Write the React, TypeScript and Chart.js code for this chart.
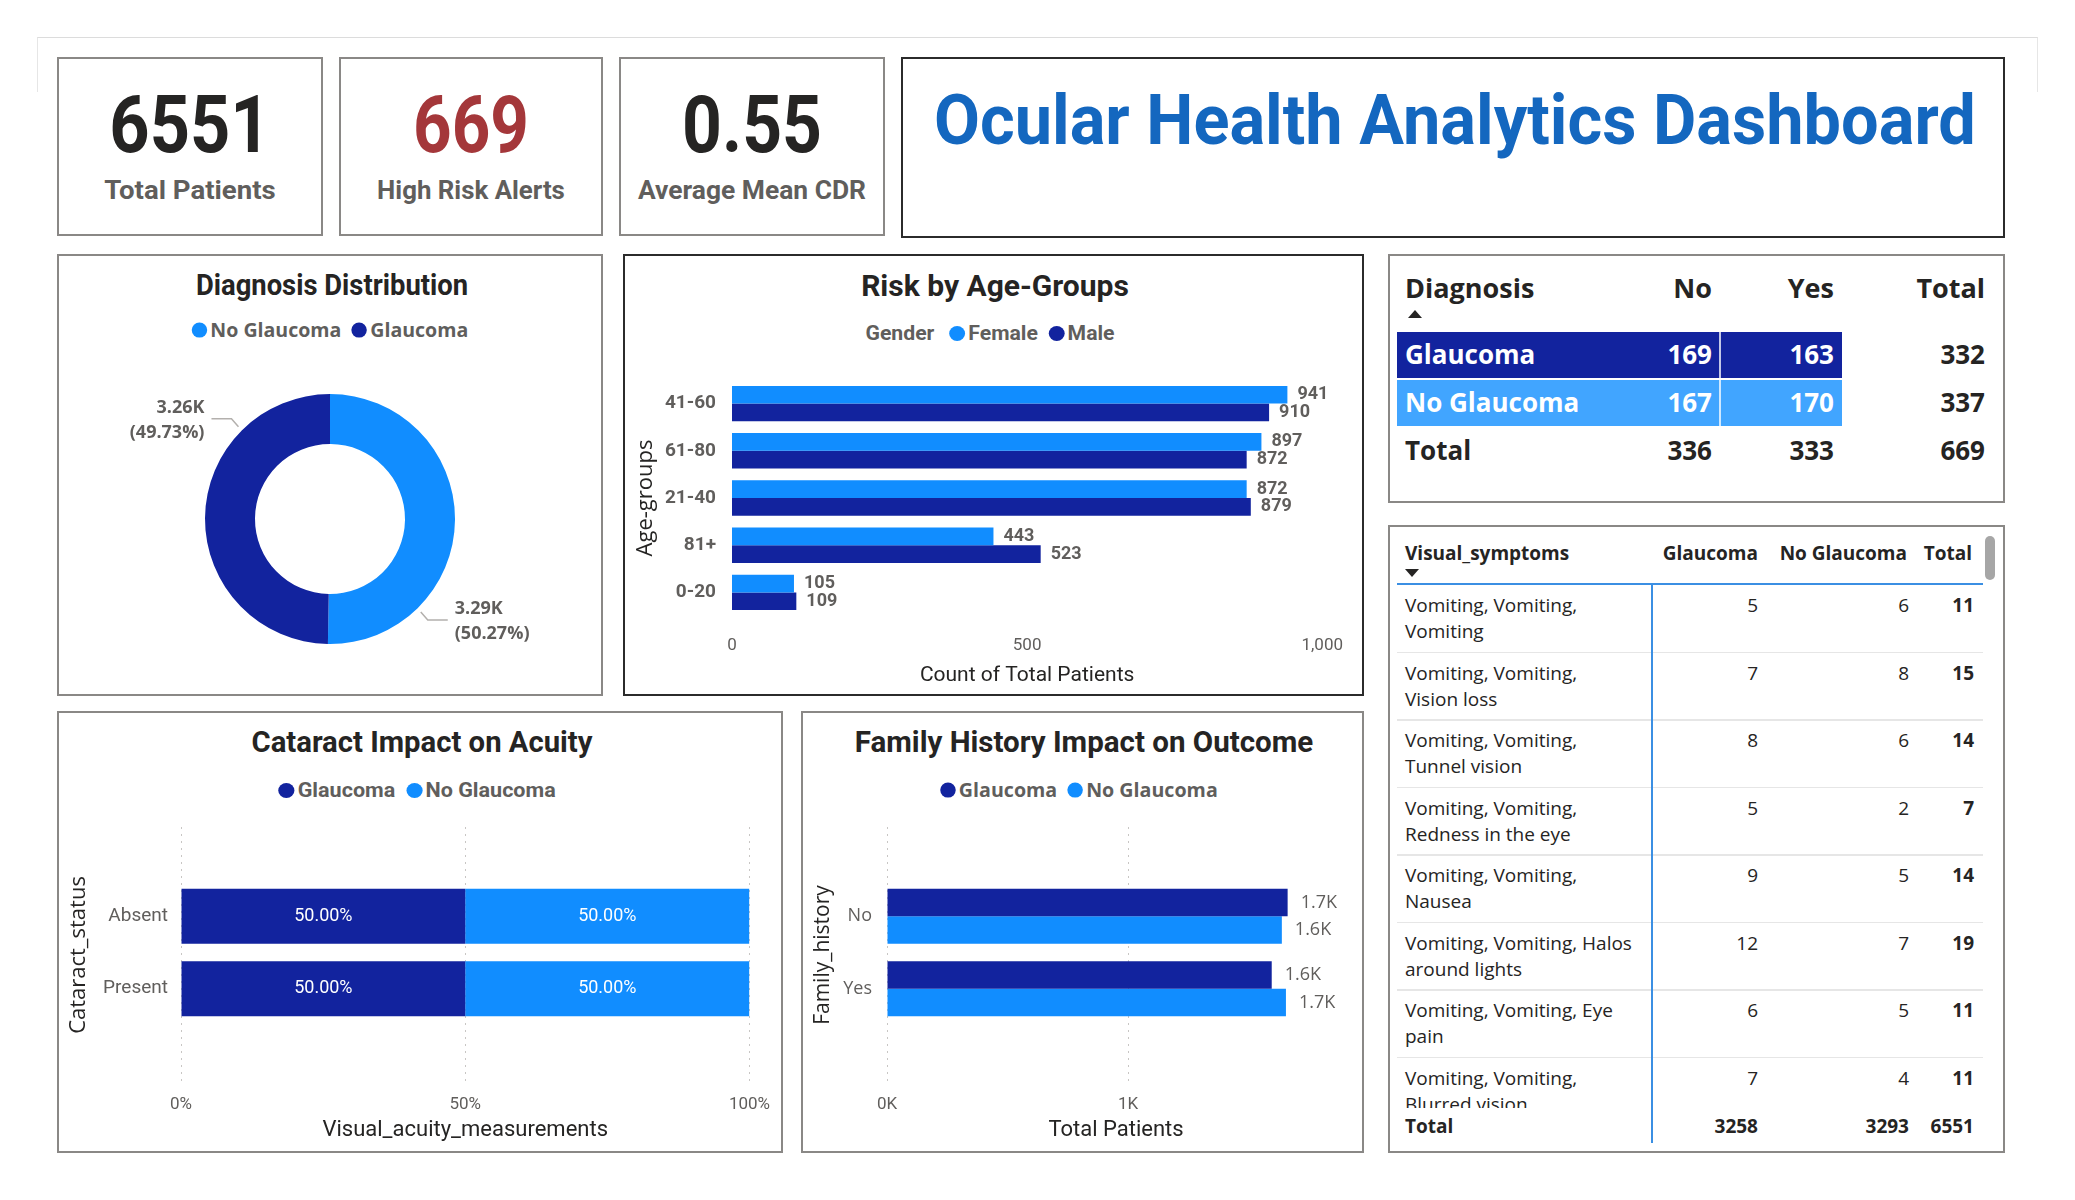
import React, { useEffect, useLayoutEffect, useRef, useState } from 'react';
import { Chart, registerables } from 'chart.js';
Chart.register(...registerables);

const NAVY = '#12239E';
const SKY = '#118DFF';
const SKY_ROW = '#41A5FF';
const GRAY_TXT = '#605E5C';
const DARK_TXT = '#252423';
const DIN = "Roboto, 'DejaVu Sans Condensed', sans-serif";
const SEGOE = "'Open Sans', 'Noto Sans', sans-serif";

// ---------- data ----------
const kpiValues = ['6551', '669', '0.55'];
const kpiLabels = ['Total Patients', 'High Risk Alerts', 'Average Mean CDR'];
const dashboardTitle = 'Ocular Health Analytics Dashboard';

const diagnosisLabels = ['No Glaucoma', 'Glaucoma'];
const diagnosisCounts = [3293, 3258];

const ageGroups = ['41-60', '61-80', '21-40', '81+', '0-20'];
const femaleCounts = [941, 897, 872, 443, 105];
const maleCounts = [910, 872, 879, 523, 109];

const cataractStatus = ['Absent', 'Present'];
const cataractGlaucomaPct = [50, 50];
const cataractNoGlaucomaPct = [50, 50];

const familyHistory = ['No', 'Yes'];
const familyGlaucoma = [1662, 1596];
const familyNoGlaucoma = [1638, 1655];
const familyTicks = [0, 1000];

const matrixRows = ['Glaucoma', 'No Glaucoma'];
const matrixNo = [169, 167];
const matrixYes = [163, 170];
const matrixTotal = [332, 337];
const matrixColTotals = [336, 333, 669];

const symptomLines = [
  ['Vomiting, Vomiting,', 'Vomiting'],
  ['Vomiting, Vomiting,', 'Vision loss'],
  ['Vomiting, Vomiting,', 'Tunnel vision'],
  ['Vomiting, Vomiting,', 'Redness in the eye'],
  ['Vomiting, Vomiting,', 'Nausea'],
  ['Vomiting, Vomiting, Halos', 'around lights'],
  ['Vomiting, Vomiting, Eye', 'pain'],
  ['Vomiting, Vomiting,', 'Blurred vision'],
];
const symptomGlaucoma = [5, 7, 8, 5, 9, 12, 6, 7];
const symptomNoGlaucoma = [6, 8, 6, 2, 5, 7, 5, 4];
const symptomTotals = [11, 15, 14, 7, 14, 19, 11, 11];
const symptomGrandTotals = [3258, 3293, 6551];

// ---------- helpers ----------
type TxtProps = {
  x: number; y: number; children: any; align?: 'left' | 'right' | 'center';
  size: number; weight?: any; color?: string; family?: string; style?: any; width?: number;
};
function Txt({ x, y, children, align = 'left', size, weight = 400, color = DARK_TXT, family = SEGOE, style, width }: TxtProps) {
  const ref = useRef<HTMLDivElement>(null);
  const [sx, setSx] = useState(1);
  useLayoutEffect(() => {
    if (!width || !ref.current) return;
    const w = ref.current.offsetWidth;
    if (w > 0) setSx(width / w);
  }, [width]);
  const tx = align === 'left' ? '0' : align === 'right' ? '-100%' : '-50%';
  const origin = align === 'left' ? 'left center' : align === 'right' ? 'right center' : 'center center';
  return (
    <div ref={ref} style={{
      position: 'absolute', left: x, top: y, transform: `translate(${tx},-50%) scaleX(${sx})`, transformOrigin: origin,
      fontSize: size, fontWeight: weight, color, fontFamily: family, lineHeight: 1.2,
      whiteSpace: 'nowrap', ...style,
    }}>{children}</div>
  );
}

function Box({ l, t, w, h, color = '#8a8886', bw = 2 }: any) {
  return <div style={{ position: 'absolute', left: l, top: t, width: w, height: h, boxSizing: 'border-box', border: `${bw}px solid ${color}`, background: 'transparent' }} />;
}

function Legend({ cx, cy, items, prefix, family, size = 20, width }: any) {
  return (
    <Txt x={cx} y={cy} size={size} weight={700} color={GRAY_TXT} family={family} align="center" width={width}
      style={{ display: 'flex', alignItems: 'center' }}>
      {prefix ? <span style={{ marginRight: 14 }}>{prefix}</span> : null}
      {items.map((it: any, i: number) => (
        <span key={i} style={{ display: 'flex', alignItems: 'center', marginRight: i < items.length - 1 ? 10 : 0 }}>
          <span style={{ width: 15, height: 15, borderRadius: '50%', background: it.color, marginRight: 3, display: 'inline-block' }} />
          <span>{it.label}</span>
        </span>
      ))}
    </Txt>
  );
}

function ChartBox({ left, top, width, height, make }: any) {
  const ref = useRef<HTMLCanvasElement>(null);
  useEffect(() => {
    const chart = new Chart(ref.current as HTMLCanvasElement, make());
    return () => chart.destroy();
  }, []);
  return <canvas ref={ref} width={width} height={height} style={{ position: 'absolute', left, top, width, height }} />;
}

function makeValueLabels(o: { formatter: (v: number) => string; font: string; color: string; offset?: number; inside?: boolean }) {
  return {
    id: 'valueLabels',
    afterDatasetsDraw(chart: any) {
      const ctx = chart.ctx;
      ctx.save();
      chart.data.datasets.forEach((ds: any, di: number) => {
        const meta = chart.getDatasetMeta(di);
        meta.data.forEach((bar: any, i: number) => {
          const raw = ds.data[i];
          const v = typeof raw === 'object' ? raw.x : raw;
          const text = o.formatter(v);
          ctx.font = o.font;
          ctx.fillStyle = o.color;
          ctx.textBaseline = 'middle';
          if (o.inside) {
            ctx.textAlign = 'center';
            ctx.fillText(text, (bar.x + bar.base) / 2, bar.y);
          } else {
            ctx.textAlign = 'left';
            ctx.fillText(text, bar.x + (o.offset || 10), bar.y);
          }
        });
      });
      ctx.restore();
    },
  };
}

const donutLabels = {
  id: 'donutLabels',
  afterDatasetsDraw(chart: any) {
    const ctx = chart.ctx;
    const meta = chart.getDatasetMeta(0);
    const vals = chart.data.datasets[0].data as number[];
    const total = vals.reduce((a, b) => a + b, 0);
    ctx.save();
    meta.data.forEach((arc: any, i: number) => {
      const { x, y, startAngle, endAngle, outerRadius } = arc.getProps(['x', 'y', 'startAngle', 'endAngle', 'outerRadius'], true);
      const a = startAngle + (endAngle - startAngle) * 0.75;
      const c = Math.cos(a), s = Math.sin(a);
      const p0x = x + c * (outerRadius + 5), p0y = y + s * (outerRadius + 5);
      const dx = Math.sign(c), dy = Math.sign(s);
      const p1x = p0x + dx * 7, p1y = p0y + dy * 8;
      const p2x = p1x + dx * 20;
      ctx.strokeStyle = '#b3b0ad';
      ctx.lineWidth = 1.5;
      ctx.beginPath();
      ctx.moveTo(p0x, p0y); ctx.lineTo(p1x, p1y); ctx.lineTo(p2x, p1y);
      ctx.stroke();
      ctx.fillStyle = GRAY_TXT;
      ctx.font = `bold 18px ${SEGOE}`;
      ctx.textAlign = dx > 0 ? 'left' : 'right';
      ctx.textBaseline = 'middle';
      const tx = p2x + dx * 7;
      ctx.fillText((vals[i] / 1000).toFixed(2) + 'K', tx, p1y - 11);
      ctx.fillText('(' + ((vals[i] / total) * 100).toFixed(2) + '%)', tx, p1y + 14);
    });
    ctx.restore();
  },
};

// ---------- chart configs ----------
const noLegend = { legend: { display: false }, tooltip: { enabled: false } };

function donutConfig(): any {
  return {
    type: 'doughnut',
    data: { labels: diagnosisLabels, datasets: [{ data: diagnosisCounts, backgroundColor: [SKY, NAVY], borderWidth: 0, hoverOffset: 0 }] },
    options: {
      responsive: false, animation: false, cutout: '60%',
      layout: { padding: { top: 139, bottom: 51, left: 147, right: 147 } },
      plugins: noLegend,
    },
    plugins: [donutLabels],
  };
}

function riskConfig(): any {
  return {
    type: 'bar',
    data: {
      labels: ageGroups,
      datasets: [
        { label: 'Female', data: femaleCounts, backgroundColor: SKY, categoryPercentage: 0.75, barPercentage: 1 },
        { label: 'Male', data: maleCounts, backgroundColor: NAVY, categoryPercentage: 0.75, barPercentage: 1 },
      ],
    },
    options: {
      indexAxis: 'y', responsive: false, animation: false,
      layout: { padding: { top: 125, right: 39, bottom: 7, left: 9 } },
      plugins: noLegend,
      scales: {
        x: {
          min: 0, max: 1000,
          ticks: { stepSize: 500, color: GRAY_TXT, font: { family: DIN, size: 17 }, padding: 20 },
          grid: { display: false, drawTicks: false }, border: { display: false },
          title: { display: true, text: 'Count of Total Patients', color: DARK_TXT, font: { family: DIN, size: 21 }, padding: 0 },
          afterFit: (s: any) => { s.height = 72; },
        },
        y: {
          ticks: { color: GRAY_TXT, font: { family: DIN, size: 19, weight: 'bold' }, padding: 16 },
          grid: { display: false, drawTicks: false }, border: { display: false },
          title: { display: true, text: 'Age-groups', color: DARK_TXT, font: { family: SEGOE, size: 22 }, padding: 0 },
          afterFit: (s: any) => { s.width = 99; },
        },
      },
    },
    plugins: [makeValueLabels({ formatter: (v) => String(v), font: `bold 18px ${DIN}`, color: GRAY_TXT, offset: 10 })],
  };
}

function cataractConfig(): any {
  return {
    type: 'bar',
    data: {
      datasets: [
        { label: 'Glaucoma', data: cataractGlaucomaPct.map((v, i) => ({ x: v, y: i })), backgroundColor: NAVY, categoryPercentage: 0.76, barPercentage: 1 },
        { label: 'No Glaucoma', data: cataractNoGlaucomaPct.map((v, i) => ({ x: v, y: i })), backgroundColor: SKY, categoryPercentage: 0.76, barPercentage: 1 },
      ],
    },
    options: {
      indexAxis: 'y', responsive: false, animation: false,
      layout: { padding: { top: 115, right: 30, bottom: 8, left: 8 } },
      plugins: noLegend,
      scales: {
        x: {
          type: 'linear', stacked: true, min: 0, max: 100,
          ticks: { stepSize: 50, color: GRAY_TXT, font: { family: DIN, size: 17 }, padding: 12, callback: (v: any) => v + '%' },
          grid: { color: '#c8c6c4', lineWidth: 1, drawTicks: false }, border: { display: false, dash: [2, 5] },
          title: { display: true, text: 'Visual_acuity_measurements', color: DARK_TXT, font: { family: DIN, size: 22 }, padding: 0 },
          afterFit: (s: any) => { s.height = 61; },
        },
        y: {
          type: 'linear', stacked: true, reverse: true, offset: false, min: -1.23, max: 2.3,
          afterBuildTicks: (s: any) => { s.ticks = cataractStatus.map((_, i) => ({ value: i })); },
          ticks: { color: GRAY_TXT, font: { family: DIN, size: 19 }, padding: 13, callback: (v: any) => cataractStatus[v] ?? '' },
          grid: { display: false, drawTicks: false }, border: { display: false },
          title: { display: true, text: 'Cataract_status', color: DARK_TXT, font: { family: SEGOE, size: 22 }, padding: 0 },
          afterFit: (s: any) => { s.width = 115; },
        },
      },
    },
    plugins: [makeValueLabels({ formatter: (v) => v.toFixed(2) + '%', font: `18px ${DIN}`, color: '#ffffff', inside: true })],
  };
}

function familyConfig(): any {
  return {
    type: 'bar',
    data: {
      datasets: [
        { label: 'Glaucoma', data: familyGlaucoma.map((v, i) => ({ x: v, y: i })), backgroundColor: NAVY, categoryPercentage: 0.76, barPercentage: 1 },
        { label: 'No Glaucoma', data: familyNoGlaucoma.map((v, i) => ({ x: v, y: i })), backgroundColor: SKY, categoryPercentage: 0.76, barPercentage: 1 },
      ],
    },
    options: {
      indexAxis: 'y', responsive: false, animation: false,
      layout: { padding: { top: 115, right: 18, bottom: 8, left: 8 } },
      plugins: noLegend,
      scales: {
        x: {
          type: 'linear', min: 0, max: 1900,
          afterBuildTicks: (s: any) => { s.ticks = familyTicks.map((v) => ({ value: v })); },
          ticks: { color: GRAY_TXT, font: { family: DIN, size: 17 }, padding: 12, callback: (v: any) => v / 1000 + 'K' },
          grid: { color: '#c8c6c4', lineWidth: 1, drawTicks: false }, border: { display: false, dash: [2, 5] },
          title: { display: true, text: 'Total Patients', color: DARK_TXT, font: { family: DIN, size: 22 }, padding: 0 },
          afterFit: (s: any) => { s.height = 61; },
        },
        y: {
          type: 'linear', reverse: true, offset: false, min: -1.23, max: 2.3,
          afterBuildTicks: (s: any) => { s.ticks = familyHistory.map((_, i) => ({ value: i })); },
          ticks: { color: GRAY_TXT, font: { family: SEGOE, size: 18 }, padding: 15, callback: (v: any) => familyHistory[v] ?? '' },
          grid: { display: false, drawTicks: false }, border: { display: false },
          title: { display: true, text: 'Family_history', color: DARK_TXT, font: { family: SEGOE, size: 21 }, padding: 0 },
          afterFit: (s: any) => { s.width = 77; },
        },
      },
    },
    plugins: [makeValueLabels({ formatter: (v) => (v / 1000).toFixed(1) + 'K', font: `18px ${SEGOE}`, color: GRAY_TXT, offset: 13 })],
  };
}

// ---------- layout ----------
const kpiBoxes = [
  { l: 57, w: 266 },
  { l: 339, w: 264 },
  { l: 619, w: 266 },
];
const kpiColors = [DARK_TXT, '#A4373A', DARK_TXT];
const kpiValueWidths = [161, 116, 140];
const kpiLabelWidths = [171, 188, 228];

function Triangle({ x, y, up }: any) {
  return <div style={{
    position: 'absolute', left: x, top: y, width: 0, height: 0,
    borderLeft: '7px solid transparent', borderRight: '7px solid transparent',
    ...(up ? { borderBottom: `8px solid ${DARK_TXT}` } : { borderTop: `8px solid ${DARK_TXT}` }),
  }} />;
}

function MatrixTable() {
  const rowTop = 332, rowH = 48;
  return (
    <>
      <Box l={1388} t={254} w={617} h={249} />
      <Txt x={1405} y={288} size={27} weight={700}>Diagnosis</Txt>
      <Txt x={1712} y={288} size={27} weight={700} align="right">No</Txt>
      <Txt x={1834} y={288} size={27} weight={700} align="right">Yes</Txt>
      <Txt x={1985} y={288} size={27} weight={700} align="right">Total</Txt>
      <Triangle x={1408} y={310} up />
      {matrixRows.map((r, i) => (
        <React.Fragment key={r}>
          <div style={{ position: 'absolute', left: 1397, top: rowTop + i * rowH, width: 445, height: rowH - 2, background: i === 0 ? NAVY : SKY_ROW }} />
          <div style={{ position: 'absolute', left: 1719, top: rowTop + i * rowH, width: 2, height: rowH - 2, background: 'rgba(255,255,255,0.75)' }} />
          <Txt x={1405} y={rowTop + i * rowH + 23} size={26} weight={700} color="#ffffff">{r}</Txt>
          <Txt x={1712} y={rowTop + i * rowH + 23} size={26} weight={700} color="#ffffff" align="right">{matrixNo[i]}</Txt>
          <Txt x={1834} y={rowTop + i * rowH + 23} size={26} weight={700} color="#ffffff" align="right">{matrixYes[i]}</Txt>
          <Txt x={1985} y={rowTop + i * rowH + 23} size={26} weight={700} align="right">{matrixTotal[i]}</Txt>
        </React.Fragment>
      ))}
      <Txt x={1405} y={451} size={26} weight={700}>Total</Txt>
      <Txt x={1712} y={451} size={26} weight={700} align="right">{matrixColTotals[0]}</Txt>
      <Txt x={1834} y={451} size={26} weight={700} align="right">{matrixColTotals[1]}</Txt>
      <Txt x={1985} y={451} size={26} weight={700} align="right">{matrixColTotals[2]}</Txt>
    </>
  );
}

function SymptomTable() {
  const rowH = 67.5;
  return (
    <>
      <Box l={1388} t={525} w={617} h={628} />
      <Txt x={1405} y={553} size={19} weight={700}>Visual_symptoms</Txt>
      <Txt x={1758} y={553} size={19} weight={700} align="right">Glaucoma</Txt>
      <Txt x={1907} y={553} size={19} weight={700} align="right">No Glaucoma</Txt>
      <Txt x={1972} y={553} size={19} weight={700} align="right">Total</Txt>
      <Triangle x={1405} y={569} />
      <div style={{ position: 'absolute', left: 1985, top: 536, width: 10, height: 44, borderRadius: 5, background: '#a6a6a6' }} />
      <div style={{ position: 'absolute', left: 1397, top: 583, width: 586, height: 2, background: '#3B8FE3' }} />
      <div style={{ position: 'absolute', left: 1397, top: 585, width: 600, height: 523, overflow: 'hidden' }}>
        {symptomLines.map((lines, i) => (
          <React.Fragment key={i}>
            <Txt x={8} y={i * rowH + 20} size={19}>{lines[0]}</Txt>
            <Txt x={8} y={i * rowH + 46} size={19}>{lines[1]}</Txt>
            <Txt x={361} y={i * rowH + 20} size={19} align="right">{symptomGlaucoma[i]}</Txt>
            <Txt x={512} y={i * rowH + 20} size={19} align="right">{symptomNoGlaucoma[i]}</Txt>
            <Txt x={577} y={i * rowH + 20} size={19} weight={700} align="right">{symptomTotals[i]}</Txt>
            <div style={{ position: 'absolute', left: 0, top: (i + 1) * rowH - 1, width: 586, height: 1.5, background: '#e6e6e6' }} />
          </React.Fragment>
        ))}
      </div>
      <div style={{ position: 'absolute', left: 1651, top: 585, width: 2, height: 558, background: '#3B8FE3' }} />
      <Txt x={1405} y={1126} size={19} weight={700}>Total</Txt>
      <Txt x={1758} y={1126} size={19} weight={700} align="right">{symptomGrandTotals[0]}</Txt>
      <Txt x={1909} y={1126} size={19} weight={700} align="right">{symptomGrandTotals[1]}</Txt>
      <Txt x={1974} y={1126} size={19} weight={700} align="right">{symptomGrandTotals[2]}</Txt>
    </>
  );
}

export default function App() {
  return (
    <div style={{ position: 'absolute', left: 0, top: 0, width: 2075, height: 1200, background: '#ffffff', overflow: 'hidden', fontFamily: SEGOE }}>
      <div style={{ position: 'absolute', left: 37, top: 37, width: 2001, height: 55, boxSizing: 'border-box', borderTop: '1.5px solid #dcdcdc', borderLeft: '1.5px solid #e6e6e6', borderRight: '1.5px solid #e6e6e6' }} />

      {kpiBoxes.map((b, i) => (
        <React.Fragment key={i}>
          <Box l={b.l} t={57} w={b.w} h={179} />
          <Txt x={b.l + b.w / 2} y={125} size={79} weight={700} color={kpiColors[i]} family={DIN} align="center" width={kpiValueWidths[i]}>{kpiValues[i]}</Txt>
          <Txt x={b.l + b.w / 2} y={191} size={25} weight={700} color={GRAY_TXT} family={DIN} align="center" width={kpiLabelWidths[i]}>{kpiLabels[i]}</Txt>
        </React.Fragment>
      ))}

      <Box l={901} t={57} w={1104} h={181} color="#2b2b2b" />
      <Txt x={934} y={120} size={70} weight={700} color="#1467BF" family={DIN} width={1042}>{dashboardTitle}</Txt>

      {/* Diagnosis distribution */}
      <Box l={57} t={254} w={546} h={442} />
      <Txt x={332} y={285} size={29} weight={700} family={DIN} align="center" width={272}>Diagnosis Distribution</Txt>
      <Legend cx={330} cy={330} family={SEGOE} size={19} width={277} items={[{ color: SKY, label: diagnosisLabels[0] }, { color: NAVY, label: diagnosisLabels[1] }]} />
      <ChartBox left={58} top={255} width={544} height={440} make={donutConfig} />

      {/* Risk by age groups */}
      <Box l={623} t={254} w={741} h={442} color="#2b2b2b" />
      <Txt x={995} y={286} size={29} weight={700} family={DIN} align="center" width={268}>Risk by Age-Groups</Txt>
      <Legend cx={990} cy={333} family={DIN} size={20} prefix="Gender" width={249} items={[{ color: SKY, label: 'Female' }, { color: NAVY, label: 'Male' }]} />
      <ChartBox left={624} top={255} width={739} height={440} make={riskConfig} />

      <MatrixTable />
      <SymptomTable />

      {/* Cataract */}
      <Box l={57} t={711} w={726} h={442} />
      <Txt x={422} y={742} size={29} weight={700} family={DIN} align="center" width={341}>Cataract Impact on Acuity</Txt>
      <Legend cx={417} cy={790} family={DIN} size={20} width={278} items={[{ color: NAVY, label: 'Glaucoma' }, { color: SKY, label: 'No Glaucoma' }]} />
      <ChartBox left={58} top={712} width={724} height={440} make={cataractConfig} />

      {/* Family history */}
      <Box l={801} t={711} w={563} h={442} />
      <Txt x={1084} y={742} size={29} weight={700} family={DIN} align="center" width={458}>Family History Impact on Outcome</Txt>
      <Legend cx={1079} cy={790} family={SEGOE} size={19} width={278} items={[{ color: NAVY, label: 'Glaucoma' }, { color: SKY, label: 'No Glaucoma' }]} />
      <ChartBox left={802} top={712} width={561} height={440} make={familyConfig} />
    </div>
  );
}
